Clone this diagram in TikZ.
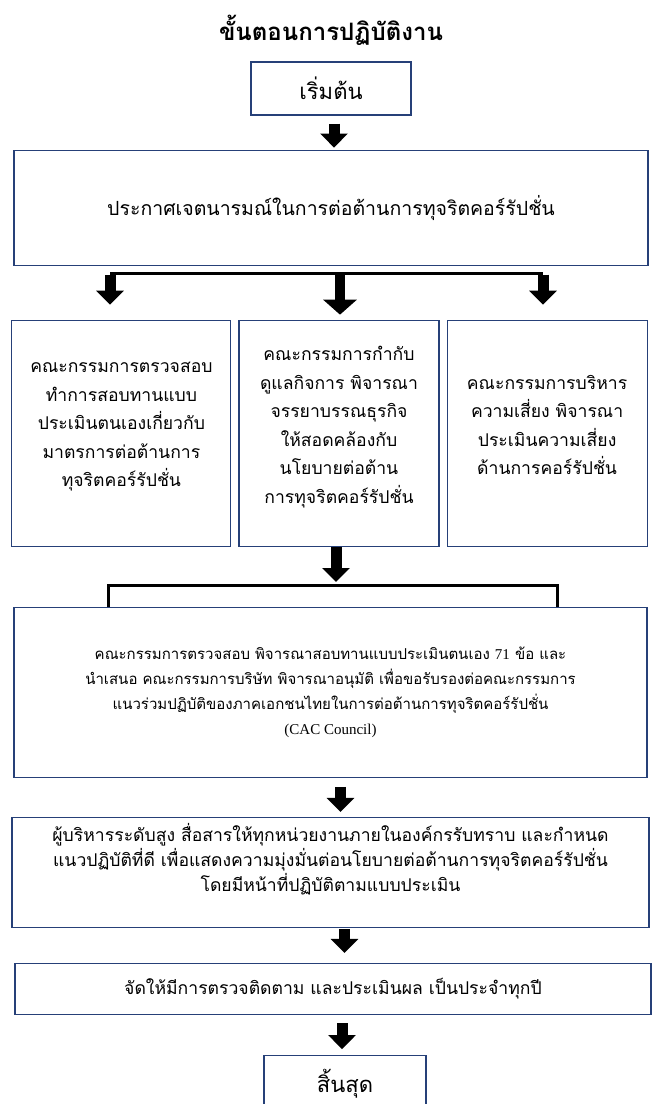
\documentclass[tikz,border=0pt]{standalone}
\usepackage{fontspec}
\setmainfont{Liberation Serif}
\newfontfamily\thaifont[Script=Thai]{Loma}
\usetikzlibrary{arrows.meta, positioning}
\definecolor{boxline}{RGB}{38,64,120}

\begin{document}
\begin{tikzpicture}[
  x=1pt, y=-1pt,
  stepbox/.style={rectangle, draw=boxline, line width=1.1pt, inner sep=0pt, align=center, font=\thaifont\fontsize{17.6}{25}\selectfont},
  tallbox/.style={stepbox, minimum height=226pt, text depth=17pt, font=\thaifont\fontsize{17.6}{28.5}\selectfont},
  endbox/.style={stepbox, font=\thaifont\fontsize{22}{26}\selectfont},
  blockarr/.style={line width=11pt, -{Triangle[width=27pt, length=14pt]}},
  bigarr/.style={line width=10pt, -{Triangle[width=33pt, length=15pt]}},
  bar/.style={line width=3pt},
]
  \useasboundingbox (0,0) rectangle (654,1104);

  % Title and start
  \node[font=\thaifont\bfseries\fontsize{24}{28}\selectfont] (title) at (331,30) {ขั้นตอนการปฏิบัติงาน};
  \node[endbox, minimum width=160pt, minimum height=53pt] (start) at (331,88.5) {เริ่มต้น};
  \node[stepbox, minimum width=634pt, minimum height=115pt, below=34pt of start, font=\thaifont\fontsize{19.5}{25}\selectfont] (declare) {ประกาศเจตนารมณ์ในการต่อต้านการทุจริตคอร์รัปชั่น};

  % Three committees
  \node[tallbox, minimum width=200pt, below=54pt of declare, xshift=8pt] (govern) {คณะกรรมการกำกับ\\ดูแลกิจการ พิจารณา\\จรรยาบรรณธุรกิจ\\ให้สอดคล้องกับ\\นโยบายต่อต้าน\\การทุจริตคอร์รัปชั่น};
  \node[tallbox, minimum width=219pt, left=7pt of govern] (audit) {คณะกรรมการตรวจสอบ\\ทำการสอบทานแบบ\\ประเมินตนเองเกี่ยวกับ\\มาตรการต่อต้านการ\\ทุจริตคอร์รัปชั่น};
  \node[tallbox, minimum width=200pt, right=7pt of govern] (riskmgmt) {คณะกรรมการบริหาร\\ความเสี่ยง พิจารณา\\ประเมินความเสี่ยง\\ด้านการคอร์รัปชั่น};

  % Review, communication, follow-up
  \node[stepbox, minimum width=633pt, minimum height=170pt, below=60pt of govern, xshift=-8.5pt, font=\thaifont\fontsize{15}{25}\selectfont] (report) {คณะกรรมการตรวจสอบ พิจารณาสอบทานแบบประเมินตนเอง {\rmfamily 71} ข้อ และ\\นำเสนอ คณะกรรมการบริษัท พิจารณาอนุมัติ เพื่อขอรับรองต่อคณะกรรมการ\\แนวร่วมปฏิบัติของภาคเอกชนไทยในการต่อต้านการทุจริตคอร์รัปชั่น\\{\rmfamily (CAC Council)}};
  \node[stepbox, minimum width=637pt, minimum height=110pt, text depth=30pt, below=39pt of report] (exec) {ผู้บริหารระดับสูง สื่อสารให้ทุกหน่วยงานภายในองค์กรรับทราบ และกำหนด\\แนวปฏิบัติที่ดี เพื่อแสดงความมุ่งมั่นต่อนโยบายต่อต้านการทุจริตคอร์รัปชั่น\\โดยมีหน้าที่ปฏิบัติตามแบบประเมิน};
  \node[stepbox, minimum width=636pt, minimum height=51pt, below=35pt of exec, xshift=2.5pt] (follow) {จัดให้มีการตรวจติดตาม และประเมินผล เป็นประจำทุกปี};
  \node[endbox, minimum width=162pt, minimum height=57pt, below=40pt of follow, xshift=12pt] (stop) {สิ้นสุด};

  % Fork points
  \coordinate (forkL) at (110,274.5);
  \coordinate (forkM) at (340,274.5);
  \coordinate (forkR) at (543,274.5);
  \coordinate (joinL) at (108,585);
  \coordinate (joinR) at (557,585);

  % Arrows
  \draw[blockarr, shorten <=8pt, shorten >=2pt] ([xshift=3pt]start.south) -- ([xshift=3pt]start.south |- declare.north);

  % Fan out to committees
  \draw[bar] ([yshift=1.5pt]forkL) -- ([yshift=1.5pt]forkR);
  \foreach \f/\b in {forkL/audit, forkR/riskmgmt} {
    \draw[blockarr, shorten >=15pt] (\f) -- (\f |- \b.north);
  }
  \draw[bigarr, shorten >=5pt] (forkM) -- (forkM |- govern.north);

  % Join into review
  \draw[blockarr, shorten >=3pt] ([xshift=-3pt]govern.south) -- ([xshift=-3pt]govern.south |- joinL);
  \draw[bar] (joinL |- report.north) -- (joinL) -- (joinR) -- (joinR |- report.north);

  \draw[blockarr, shorten <=9pt, shorten >=5pt] ([xshift=10pt]report.south) -- ([xshift=10pt]report.south |- exec.north);
  \draw[blockarr, shorten <=1pt, shorten >=10pt] ([xshift=14pt]exec.south) -- ([xshift=14pt]exec.south |- follow.north);
  \draw[blockarr, shorten <=8pt, shorten >=6pt] ([xshift=9pt]follow.south) -- ([xshift=9pt]follow.south |- stop.north);

\end{tikzpicture}
\end{document}
